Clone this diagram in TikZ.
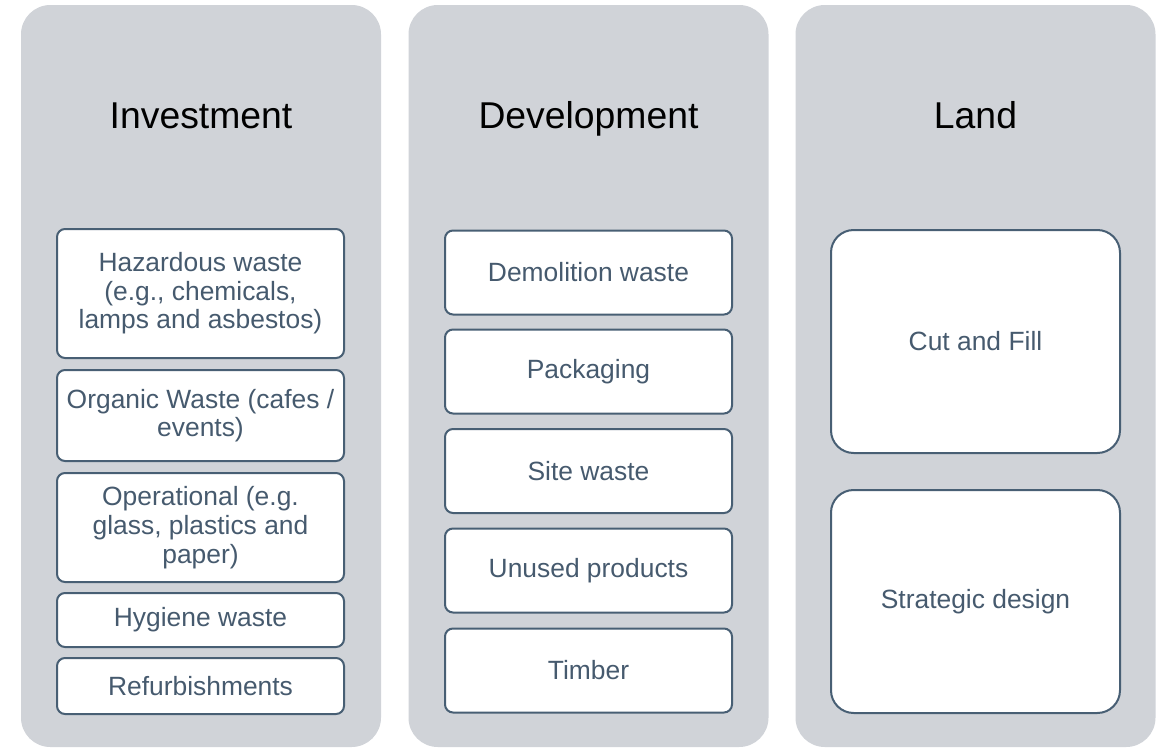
\documentclass[tikz,border=0pt]{standalone}
\usepackage{fontspec}
\setmainfont{Liberation Sans}
\definecolor{panelgray}{RGB}{208,211,216}
\definecolor{itemline}{RGB}{72,95,116}
\definecolor{itemtext}{RGB}{70,90,110}
\begin{document}
\begin{tikzpicture}[x=0.75pt,y=-0.75pt,
  panel/.style={fill=panelgray, rounded corners=22pt, minimum width=270pt,
    minimum height=556.5pt, inner sep=0pt},
  heading/.style={anchor=base, inner sep=0pt, text=black,
    font=\fontsize{28}{32}\selectfont},
  item/.style={draw=itemline, line width=1.5pt, fill=white, rounded corners=6pt,
    minimum width=215.25pt, align=center, inner sep=2pt, text=itemtext,
    font=\fontsize{19.8}{21.5}\selectfont},
  bigitem/.style={item, rounded corners=17pt, minimum width=216.75pt,
    minimum height=167.25pt}]
\useasboundingbox (0,0) rectangle (1165,747);

% three column panels
\node[panel] (pinv) at (201,376) {};
\node[panel] (pdev) at (588.5,376) {};
\node[panel] (plan) at (975.5,376) {};

% column headings
\node[heading] (tinv) at (201,128) {Investment};
\node[heading] (tdev) at (588.5,128) {Development};
\node[heading] (tlan) at (975.5,128) {Land};

% Investment items
\node[item, minimum height=96.75pt] (haz) at (200.5,293.5)
  {Hazardous waste\\(e.g., chemicals,\\lamps and asbestos)};
\node[item, minimum height=68.25pt] (org) at (200.5,415.5)
  {Organic Waste (cafes /\\events)};
\node[item, minimum height=81.75pt] (ops) at (200.5,527.5)
  {Operational (e.g.\\glass, plastics and\\paper)};
\node[item, minimum height=40.5pt] (hyg) at (200.5,620)
  {Hygiene waste};
\node[item, minimum height=42pt] (ref) at (200.5,686)
  {Refurbishments};

% Development items
\node[item, minimum height=63pt] (dem) at (588.5,272.5) {Demolition waste};
\node[item, minimum height=63pt] (pack) at (588.5,371.5) {Packaging};
\node[item, minimum height=63pt] (site) at (588.5,471) {Site waste};
\node[item, minimum height=63pt] (unus) at (588.5,570.5) {Unused products};
\node[item, minimum height=63pt] (timb) at (588.5,670.5) {Timber};

% Land items
\node[bigitem] (cut) at (975.5,341.5) {Cut and Fill};
\node[bigitem] (strat) at (975.5,601.5) {Strategic design};
\end{tikzpicture}
\end{document}
